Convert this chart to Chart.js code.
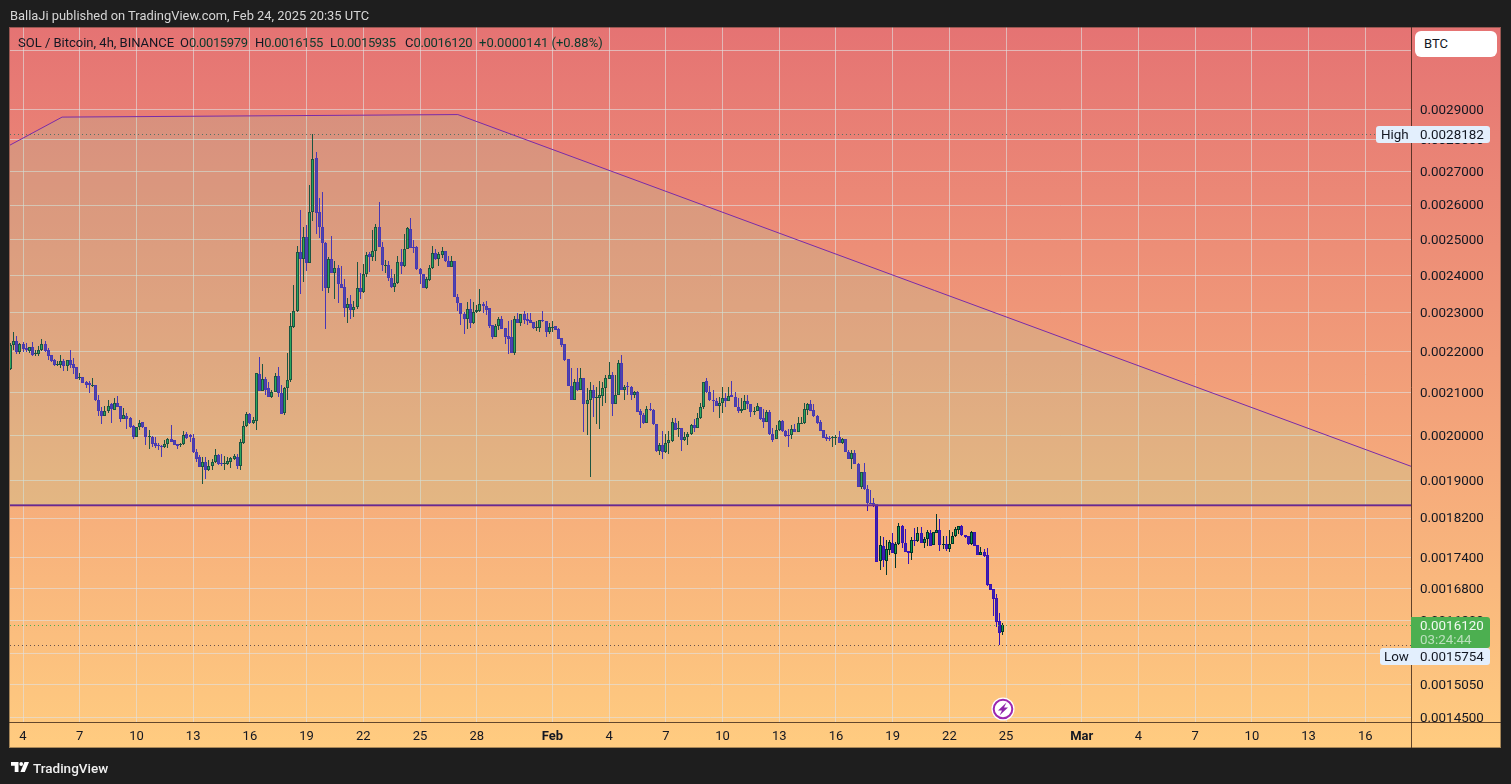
<!DOCTYPE html>
<html><head><meta charset="utf-8">
<script src="https://cdn.jsdelivr.net/npm/chart.js@4"></script>
<style>
html,body{margin:0;padding:0;background:#1e1e1e;width:1511px;height:784px;overflow:hidden;font-family:Roboto,sans-serif}
#c{position:absolute;left:0;top:0}
.t{position:absolute;white-space:nowrap;line-height:16px}
.leg{font-size:13px;color:#131722;top:35px}
.leg b{font-weight:400;color:#0b3a2c;letter-spacing:-.35px}
</style></head><body>
<canvas id="c" width="1511" height="784"></canvas>
<div class="t" style="left:10px;top:8px;font-size:12.9px;color:#d6d6d6">BallaJi published on TradingView.com, Feb 24, 2025 20:35 UTC</div>
<div class="t leg" style="left:18px">SOL / Bitcoin, 4h, BINANCE</div>
<div class="t leg" style="left:180px">O<b>0.0015979</b></div>
<div class="t leg" style="left:255px">H<b>0.0016155</b></div>
<div class="t leg" style="left:330px">L<b>0.0015935</b></div>
<div class="t leg" style="left:405px">C<b>0.0016120</b></div>
<div class="t leg" style="left:479px"><b style="letter-spacing:0">+0.0000141 (+0.88%)</b></div>
<div class="t" style="left:1415px;top:31px;width:82px;height:26px;background:#fff;border-radius:6px;box-sizing:border-box;padding:5px 0 0 9px;font-size:13px;color:#131722">BTC</div>
<svg style="position:absolute;left:991px;top:697px" width="24" height="24" viewBox="0 0 24 24"><circle cx="12" cy="12" r="11.5" fill="#fff"/><circle cx="12" cy="12" r="9.3" fill="#fff" stroke="#9c27b0" stroke-width="2"/><path d="M15.5 5.5L7 13.5h4L8.5 18.5 17 10.5h-4z" fill="#8e24aa"/></svg>
<svg style="position:absolute;left:11px;top:761px" width="18" height="12" viewBox="0 0 18 12"><path d="M0 1h7.5v10H3.7V4.8H0z" fill="#fff"/><circle cx="10.2" cy="3" r="1.9" fill="#fff"/><path d="M13.5 1H18l-4.2 10H9.4z" fill="#fff"/></svg>
<div class="t" style="left:33px;top:760px;font-size:13.5px;font-weight:500;color:#f0f0f0">TradingView</div>
<script>
// Prices are in millionths of BTC. One candle per 4 hours, first bar Jan 3 08:00.
const opens=[2156,2216,2228,2198,2219,2208,2201,2211,2193,2193,2203,2219,2203,2191,2179,2166,2166,2176,2164,2179,2169,2161,2134,2137,2124,2122,2117,2119,2083,2056,2044,2056,2072,2058,2076,2067,2037,2044,2039,2021,1996,2018,2030,2018,1997,1996,1982,1978,1975,1973,1980,1991,1989,1980,1978,1980,2002,2000,1993,1962,1951,1929,1940,1922,1931,1940,1955,1938,1935,1935,1940,1946,1951,1931,1982,2021,2049,2028,2032,2144,2103,2132,2110,2088,2100,2139,2098,2051,2110,2129,2262,2303,2464,2445,2506,2434,2579,2743,2579,2535,2489,2365,2445,2406,2420,2376,2368,2311,2322,2306,2314,2365,2354,2403,2459,2450,2467,2535,2478,2426,2428,2392,2368,2379,2436,2425,2473,2529,2478,2478,2417,2403,2365,2387,2420,2462,2445,2456,2467,2439,2423,2439,2341,2325,2296,2283,2309,2272,2301,2303,2322,2317,2311,2267,2238,2264,2283,2259,2239,2236,2196,2283,2272,2296,2283,2280,2275,2259,2259,2280,2278,2249,2259,2264,2257,2234,2219,2181,2115,2083,2124,2107,2134,2072,2081,2105,2086,2086,2091,2110,2132,2142,2072,2095,2171,2105,2115,2112,2093,2100,2056,2046,2028,2060,2058,2026,1964,1977,1962,1982,1987,2028,2014,2016,1989,1996,2002,2023,2016,2039,2065,2127,2100,2083,2079,2069,2076,2086,2079,2093,2088,2065,2056,2058,2079,2072,2053,2056,2065,2039,2030,2053,2002,1991,2011,2032,2009,2000,2000,2014,2007,2026,2028,2058,2072,2058,2044,2030,2011,1996,1993,1993,1993,1996,1982,1991,1962,1946,1959,1935,1885,1918,1882,1851,1851,1849,1734,1762,1734,1754,1769,1746,1767,1803,1769,1752,1748,1775,1773,1789,1769,1777,1789,1764,1789,1795,1764,1767,1756,1767,1783,1795,1803,1785,1783,1767,1791,1764,1744,1750,1744,1688,1678,1661,1618,1597.9];
const highs=[2221,2249,2239,2221,2224,2221,2211,2224,2203,2214,2231,2226,2208,2191,2181,2176,2191,2181,2179,2203,2184,2161,2147,2137,2127,2127,2134,2119,2093,2065,2067,2081,2076,2086,2091,2067,2062,2051,2042,2023,2018,2035,2030,2018,2011,1998,1996,1982,1978,1989,1993,2023,1989,1980,1982,2009,2007,2004,2004,1968,1955,1951,1951,1944,1946,1968,1957,1957,1953,1951,1951,1957,1957,1991,2032,2053,2051,2042,2147,2186,2169,2137,2124,2105,2147,2161,2117,2112,2196,2298,2373,2481,2585,2535,2540,2659,2818.2,2762,2620,2638,2492,2450,2509,2439,2428,2425,2390,2338,2346,2330,2436,2406,2431,2464,2464,2526,2543,2608,2492,2442,2439,2417,2403,2453,2473,2515,2535,2561,2498,2481,2420,2403,2395,2428,2481,2473,2464,2478,2467,2453,2453,2439,2349,2325,2301,2327,2336,2327,2319,2362,2327,2330,2311,2267,2270,2288,2290,2259,2278,2280,2290,2298,2296,2303,2298,2298,2275,2278,2280,2303,2278,2272,2278,2264,2259,2234,2219,2181,2159,2132,2159,2159,2134,2110,2124,2119,2112,2127,2124,2142,2174,2149,2142,2179,2191,2119,2124,2115,2103,2103,2060,2051,2067,2074,2060,2026,1982,2009,2004,2009,2039,2039,2032,2016,2007,2007,2026,2037,2051,2076,2124,2134,2115,2105,2086,2088,2112,2098,2112,2127,2100,2086,2086,2093,2093,2072,2065,2074,2065,2060,2058,2058,2016,2023,2035,2035,2011,2014,2023,2025,2042,2042,2074,2076,2083,2072,2046,2035,2011,2004,1998,1998,2000,2009,1993,1991,1966,1966,1966,1938,1918,1938,1889,1880,1861,1849,1783,1781,1775,1775,1789,1771,1809,1805,1797,1752,1781,1799,1801,1801,1781,1795,1795,1791,1828,1817,1783,1783,1795,1791,1801,1803,1805,1785,1783,1793,1791,1764,1760,1756,1758,1688,1678,1670,1633,1615.5];
const lows=[2154,2203,2193,2193,2198,2198,2196,2188,2188,2188,2201,2198,2179,2174,2164,2164,2159,2152,2152,2159,2144,2132,2129,2122,2110,2098,2112,2079,2044,2026,2044,2051,2028,2058,2065,2030,2037,2014,2016,1991,1996,2011,2016,1977,1968,1973,1971,1966,1951,1971,1971,1984,1978,1968,1973,1978,1991,1984,1959,1940,1929,1891,1902,1920,1922,1938,1933,1931,1922,1933,1926,1944,1924,1922,1980,2018,2026,2026,2011,2103,2103,2095,2088,2086,2100,2088,2049,2046,2081,2124,2259,2301,2349,2382,2412,2434,2552,2515,2504,2357,2257,2352,2406,2336,2325,2365,2288,2272,2283,2288,2309,2336,2352,2395,2409,2439,2439,2478,2412,2406,2384,2365,2354,2376,2403,2423,2473,2476,2462,2414,2376,2365,2362,2384,2417,2442,2425,2448,2436,2423,2423,2341,2303,2267,2244,2257,2259,2270,2298,2301,2298,2293,2259,2231,2236,2254,2257,2219,2193,2196,2191,2272,2264,2270,2267,2272,2257,2252,2249,2275,2236,2244,2249,2254,2231,2211,2176,2115,2083,2083,2103,2107,2007,2000,1907,2042,2026,2014,2069,2076,2132,2044,2072,2095,2105,2081,2093,2083,2086,2053,2016,2026,2028,2056,2023,1962,1955,1946,1959,1957,1984,2011,1996,1964,1987,1978,2000,2007,2016,2037,2060,2098,2079,2053,2069,2039,2051,2065,2079,2088,2065,2051,2051,2058,2060,2042,2046,2056,2035,2016,2030,2000,1984,1991,2009,2007,1996,1973,1991,2007,2007,2025,2026,2046,2056,2042,2026,2009,1993,1987,1987,1973,1978,1982,1980,1962,1946,1924,1935,1885,1882,1880,1834,1849,1842,1731,1715,1722,1705,1744,1748,1720,1765,1758,1750,1728,1736,1762,1771,1769,1758,1762,1762,1764,1789,1752,1756,1752,1750,1767,1781,1787,1783,1779,1765,1765,1762,1744,1744,1740,1684,1676,1627,1607,1575.4,1593.5];
const closes=[2216,2228,2198,2219,2206,2203,2211,2191,2196,2203,2219,2201,2188,2176,2166,2169,2176,2164,2179,2166,2159,2132,2137,2122,2119,2119,2119,2081,2056,2044,2056,2069,2060,2076,2065,2037,2046,2037,2018,1996,2018,2028,2018,1996,1998,1980,1975,1975,1973,1980,1991,1984,1978,1975,1980,2000,1993,1996,1962,1946,1929,1940,1922,1931,1940,1955,1935,1935,1938,1942,1948,1953,1931,1984,2021,2049,2028,2035,2147,2103,2132,2107,2088,2100,2139,2098,2049,2110,2129,2264,2303,2464,2445,2506,2434,2579,2740,2576,2535,2489,2365,2445,2406,2420,2376,2365,2311,2322,2306,2314,2365,2354,2403,2456,2450,2467,2535,2478,2428,2428,2392,2368,2379,2436,2425,2473,2532,2476,2476,2417,2403,2365,2390,2420,2462,2445,2459,2467,2439,2423,2439,2341,2325,2296,2283,2309,2272,2301,2306,2322,2317,2306,2264,2236,2264,2283,2257,2236,2231,2196,2283,2272,2296,2280,2278,2272,2259,2262,2280,2278,2249,2262,2262,2254,2231,2216,2179,2115,2083,2124,2107,2134,2072,2081,2105,2086,2088,2093,2110,2134,2142,2072,2095,2171,2107,2112,2112,2093,2100,2053,2046,2028,2060,2058,2026,1964,1977,1962,1982,1989,2030,2011,2016,1989,1996,2004,2023,2016,2039,2065,2124,2100,2083,2079,2069,2076,2086,2079,2091,2088,2065,2056,2060,2079,2072,2053,2056,2067,2037,2030,2053,2002,1989,2011,2032,2009,1998,1998,2014,2007,2028,2028,2060,2072,2056,2044,2028,2009,1993,1991,1991,1996,1996,1982,1991,1962,1946,1959,1935,1885,1918,1882,1851,1849,1847,1732,1764,1736,1756,1771,1748,1767,1803,1769,1750,1748,1775,1773,1789,1769,1777,1791,1762,1791,1795,1764,1767,1756,1767,1783,1797,1803,1785,1781,1767,1791,1762,1744,1750,1742,1686,1676,1659,1616,1596,1612];
const priceTicks=[3100,2900,2800,2700,2600,2500,2400,2300,2200,2100,2000,1900,1820,1740,1680,1620,1560,1505,1450];
const timeTickBars=[4,22,40,58,76,94,112,130,148,172,190,208,226,244,262,280,298,316,340,358,376,394,412,430];
const timeTickLabels=["4","7","10","13","16","19","22","25","28","Feb","4","7","10","13","16","19","22","25","Mar","4","7","10","13","16"];
const channelBars=[-0.13,16.4,142,444.5];
const channelTop=[2783.7,2873.9,2882.2,1930.5];
const channelFloor=[1846.6,1846.6,1846.6,1846.6];
const highPrice=2818.2, lowPrice=1575.4, lastPrice=1612.0, countdown="03:24:44";

const UP_FILL='#129a4e',UP_LINE='#00352a',DN_FILL='#3a27a8',DN_LINE='#3810b8';
const isUp=i=>closes[i]>=opens[i];
const fmt=v=>(v/1e6).toFixed(7);
const FONT='Roboto, sans-serif';

const backdrop={id:'backdrop',beforeDraw(c){const g=c.ctx;
  const gr=g.createLinearGradient(0,27,0,748);gr.addColorStop(0,'#E57373');gr.addColorStop(1,'#FFCC80');
  g.save();g.fillStyle=gr;g.fillRect(9,27,1492,721);g.restore();}};

// keep candle edges on whole pixels so they stay crisp, as the library-computed position rounded
const crisp={id:'crisp',afterDatasetsUpdate(c){
  c.data.datasets.forEach((d,k)=>{const m=c.getDatasetMeta(k);if(m.type!=='bar')return;
    m.data.forEach(el=>{el.x=Math.floor(el.x)+.5;
      let a=Math.round(el.y),b=Math.round(el.base);if(a===b)b=a+1;el.y=a;el.base=b;});});}};

const overlays={id:'overlays',afterDraw(c){const g=c.ctx,a=c.chartArea,y=c.scales.y;
  g.save();
  g.strokeStyle='rgba(45,25,15,.75)';g.lineWidth=1;
  g.beginPath();g.moveTo(a.right+.5,27);g.lineTo(a.right+.5,748);g.moveTo(9,a.bottom+.5);g.lineTo(1501,a.bottom+.5);g.stroke();
  g.strokeStyle='rgba(60,50,40,.45)';g.strokeRect(9.5,27.5,1491,720);
  const dotted=(v,col,to)=>{const p=Math.round(y.getPixelForValue(v))+.5;g.setLineDash([1,3]);g.strokeStyle=col;g.beginPath();g.moveTo(a.left,p);g.lineTo(to,p);g.stroke();g.setLineDash([]);return p;};
  const hp=dotted(highPrice,'rgba(70,110,100,.9)',1376);
  const lp=dotted(lastPrice,'#4caf50',a.right);
  dotted(lowPrice,'rgba(90,70,70,.9)',a.right);
  g.font='13.4px '+FONT;g.textBaseline='middle';
  const badge=(cy,left,txt,txtX,val)=>{g.fillStyle='#e3effd';g.beginPath();g.roundRect(left,cy-8.5,1490-left,17,3);g.fill();g.fillStyle='#131722';g.fillText(txt,txtX,cy+1.5);g.fillText(val,1420,cy+1.5);};
  badge(hp,1376,'High',1381,fmt(highPrice));
  g.fillStyle='#4caf50';g.beginPath();g.roundRect(a.right,lp-8.5,1490-a.right,31,[0,3,3,0]);g.fill();
  g.fillStyle='rgba(255,255,255,.92)';g.fillText(fmt(lastPrice),1420,lp+1.5);
  g.fillStyle='rgba(255,255,255,.62)';g.fillText(countdown,1420,lp+15);
  badge(lp+31,1380,'Low',1384,fmt(lowPrice));
  g.restore();}};

new Chart(document.getElementById('c'),{
  type:'bar',
  data:{datasets:[
    {type:'line',label:'Channel top',data:channelBars.map((x,i)=>({x,y:channelTop[i]})),borderColor:'#7a2ba8',borderWidth:1,pointRadius:0,tension:0,fill:'+1',backgroundColor:'rgba(150,225,165,.19)',order:0},
    {type:'line',label:'Channel floor',data:channelBars.map((x,i)=>({x,y:channelFloor[i]})),borderColor:'#6a1f8f',borderWidth:2,pointRadius:0,tension:0,fill:false,order:0},
    {label:'Wicks',data:lows.map((l,i)=>({x:i,y:[l,highs[i]]})),barThickness:1,borderWidth:0,inflateAmount:0,
      backgroundColor:lows.map((l,i)=>isUp(i)?UP_LINE:DN_LINE),order:2},
    {label:'Bodies',data:opens.map((o,i)=>({x:i,y:[o,closes[i]]})),barThickness:3,borderWidth:1,borderSkipped:false,inflateAmount:0,
      backgroundColor:opens.map((o,i)=>isUp(i)?UP_FILL:DN_FILL),
      borderColor:opens.map((o,i)=>isUp(i)?UP_LINE:DN_LINE),order:1}
  ]},
  plugins:[backdrop,crisp,overlays],
  options:{
    responsive:false,animation:false,devicePixelRatio:1,
    layout:{padding:{left:10,top:27,right:10,bottom:36}},
    datasets:{bar:{grouped:false}},
    plugins:{legend:{display:false},tooltip:{enabled:false},title:{display:false}},
    scales:{
      x:{type:'linear',min:-0.13,max:444.5,offset:false,
        afterBuildTicks:s=>{s.ticks=timeTickBars.map(value=>({value}));},
        afterFit:s=>{s.height=26;},
        grid:{offset:false,color:'rgba(225,225,225,.62)',lineWidth:1,drawTicks:false},border:{display:false},
        ticks:{autoSkip:false,maxRotation:0,padding:7,color:'#131722',
          font:t=>({family:FONT,size:13,weight:(t.tick&&/[A-Z]/.test(timeTickLabels[timeTickBars.indexOf(t.tick.value)]||''))?'bold':'normal'}),
          callback:v=>timeTickLabels[timeTickBars.indexOf(v)]||''}},
      y:{type:'logarithmic',position:'right',min:1442.6,max:3184.6,
        afterBuildTicks:s=>{s.ticks=priceTicks.map(value=>({value}));},
        afterFit:s=>{s.width=90;},
        grid:{color:'rgba(225,225,225,.62)',lineWidth:1,drawTicks:false},border:{display:false},
        ticks:{autoSkip:false,padding:9,labelOffset:1,color:'#131722',crossAlign:'near',font:{family:FONT,size:13.4},callback:v=>fmt(v)}}
    }
  }
});
</script>
</body></html>
